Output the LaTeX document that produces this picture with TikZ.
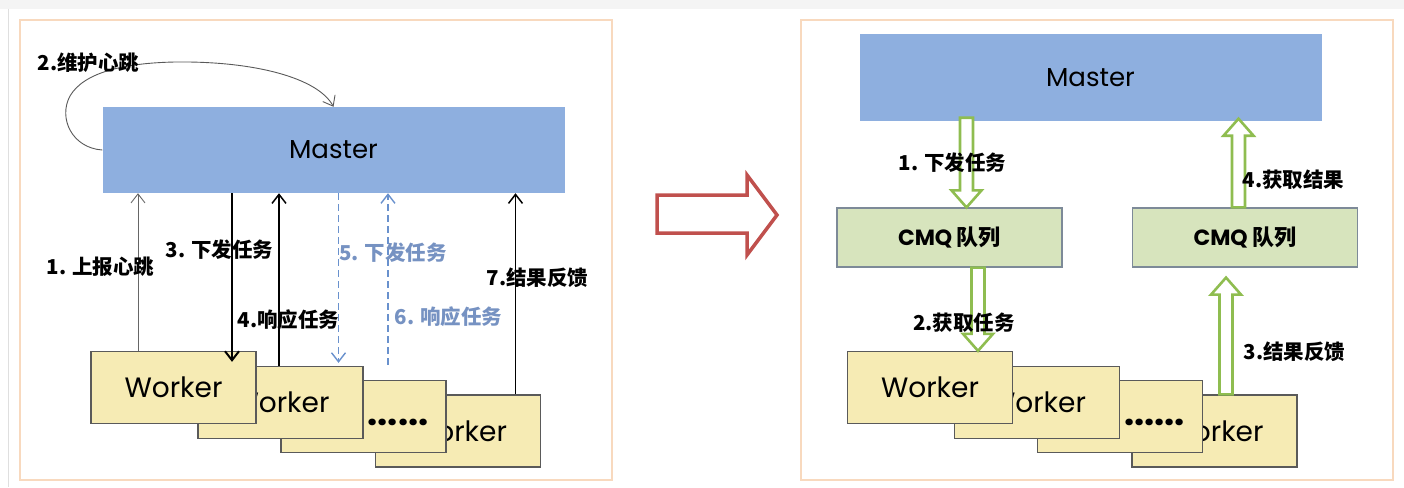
\documentclass[tikz,border=0pt]{standalone}
\usepackage{fontspec}
\setmainfont{Poppins}
\newfontfamily\cjk{Noto Sans CJK SC}
\usetikzlibrary{calc,arrows.meta,positioning}

\definecolor{masterblue}{RGB}{142,175,223}
\definecolor{queuegreen}{RGB}{215,228,189}
\definecolor{queueedge}{RGB}{125,138,152}
\definecolor{workeryellow}{RGB}{246,235,180}
\definecolor{workeredge}{RGB}{90,90,90}
\definecolor{fatgreen}{RGB}{143,189,80}
\definecolor{framepeach}{RGB}{248,217,190}
\definecolor{dashblue}{RGB}{105,145,205}
\definecolor{textblue}{RGB}{118,146,194}
\definecolor{bigred}{RGB}{192,80,77}

% hollow green arrow, #3 = 1 pointing down, -1 pointing up
\newcommand{\fatarrow}[3]{
	\draw[fat] let \p1=(#1), \p2=(#2) in
		({\x1-6.5pt},\y1) -- ({\x1-6.5pt},{\y2+#3*17pt}) -- ({\x1-15pt},{\y2+#3*17pt})
		-- (\x1,\y2) -- ({\x1+15pt},{\y2+#3*17pt}) -- ({\x1+6.5pt},{\y2+#3*17pt})
		-- ({\x1+6.5pt},\y1) -- cycle;
}

\begin{document}
\begin{tikzpicture}[x=1pt,y=-1pt,
	master/.style={fill=masterblue,minimum width=462pt,minimum height=86pt,inner sep=0pt,
		font=\fontsize{26}{30}\selectfont},
	worker/.style={draw=workeredge,line width=1.3pt,fill=workeryellow,minimum width=165pt,
		minimum height=72pt,inner sep=0pt,font=\fontsize{28}{32}\selectfont},
	dots/.style={inner sep=0pt,font=\bfseries\fontsize{36}{38}\selectfont},
	queue/.style={draw=queueedge,line width=1.2pt,fill=queuegreen,minimum width=225pt,
		minimum height=59pt,inner sep=0pt,font=\bfseries\fontsize{22}{26}\selectfont},
	lbl/.style={inner sep=0pt,font=\cjk\bfseries\fontsize{20.5}{24}\selectfont},
	bluelbl/.style={lbl,text=textblue},
	vhead/.style={-{Straight Barb[length=9pt,width=14pt]}},
	fat/.style={draw=fatgreen,line width=2.6pt,fill=white,line join=miter},
	frame/.style={draw=framepeach,line width=1.5pt}]
	\useasboundingbox (0,0) rectangle (1404,487);
	%Page edge
	\fill[gray!9] (0,0) rectangle (1404,9);
	\draw[gray!25] (8,9) -- (8,487);
	%Two panels
	\draw[frame] (20,20) rectangle (612,480);
	\draw[frame] (801,20) rectangle (1393,480);

	%Left panel: master and the stack of workers
	\node[master] (m1) at (333.5,150) {Master};
	\node[worker] (w4) at (458,431) {Worker};
	\node[worker] (w3) at (363.5,416.5) {};
	\node[dots] (w3dots) at (398,422) {......};
	\node[worker] (w2) at (280.5,402.5) {Worker};
	\node[worker] (w1) at (173.5,387.5) {Worker};
	%Columns of the connectors
	\coordinate (c1) at (138,0);
	\coordinate (c3) at (232,0);
	\coordinate (c4) at (279,0);
	\coordinate (c5) at (338.5,0);
	\coordinate (c6) at (388,0);
	\coordinate (c7) at (515.5,0);
	\draw[vhead,gray!80!black,line width=0.9pt] (c1 |- w1.north) -- (c1 |- m1.south);
	\draw[vhead,black,line width=2pt] (c3 |- m1.south) -- ($(c3 |- w1.north)+(0,11)$);
	\draw[vhead,black,line width=1.5pt] (c4 |- w2.north) -- (c4 |- m1.south);
	\draw[vhead,dashblue,line width=1.4pt,dash pattern=on 7pt off 4pt] (c5 |- m1.south) -- ($(c5 |- w2.north)+(0,-3)$);
	\coordinate (c6low) at ($(c6 |- w3.north)+(0,-15)$);
	\draw[vhead,dashblue,line width=1.4pt,dash pattern=on 7pt off 4pt] (c6low) -- (c6 |- m1.south);
	\draw[vhead,black,line width=1.5pt] (c7 |- w4.north) -- (c7 |- m1.south);
	%Heartbeat loop
	\draw[vhead,gray!70!black,line width=0.9pt] (m1.west) .. controls (72,148) and (58,118) .. (70,96)
		.. controls (84,72) and (125,63) .. (175,62) .. controls (255,61) and (318,78) .. (m1.north);
	%Labels left
	\node[lbl] (l2) at (88.5,63) {2.维护心跳};
	\node[lbl] (l1) at (100.5,267) {1. 上报心跳};
	\node[lbl] (l3) at (219.5,250) {3. 下发任务};
	\node[lbl] (l4) at (288.5,320) {4.响应任务};
	\node[bluelbl] (l5) at (393,253) {5. 下发任务};
	\node[bluelbl] (l6) at (448.5,317) {6. 响应任务};
	\node[lbl] (l7) at (537.5,278) {7.结果反馈};

	%Big arrow between the panels
	\draw[bigred,line width=3.5pt,line join=miter] (657,195) -- (747,195) -- (747,175) -- (777,215)
		-- (747,255) -- (747,233) -- (657,233) -- cycle;

	%Right panel: master, queues and workers
	\node[master] (m2) at (1090.5,77.5) {Master};
	\node[queue] (q1) at (949.5,237.5) {CMQ {\cjk 队列}};
	\node[queue] (q2) at (1245,237.5) {CMQ {\cjk 队列}};
	\node[worker] (v4) at (1214.5,431) {Worker};
	\node[worker] (v3) at (1120,416.5) {};
	\node[dots] (v3dots) at (1154.5,422) {......};
	\node[worker] (v2) at (1037,402.5) {Worker};
	\node[worker] (v1) at (930,387.5) {Worker};
	%Hollow arrows
	\coordinate (ra) at (966.5,0);
	\coordinate (rb) at (978,0);
	\coordinate (rc) at (1226,0);
	\coordinate (rd) at (1238.5,0);
	\fatarrow{$(ra |- m2.south)+(0,-3)$}{ra |- q1.north}{1}
	\fatarrow{rb |- q1.south}{rb |- v1.north}{1}
	\fatarrow{rc |- v4.north}{$(rc |- q2.south)+(0,10)$}{-1}
	\fatarrow{rd |- q2.north}{$(rd |- m2.south)+(0,-2)$}{-1}
	%Labels right
	\node[lbl] (r1) at (952.5,163) {1. 下发任务};
	\node[lbl] (r2) at (964,323) {2.获取任务};
	\node[lbl] (r3) at (1294.5,352) {3.结果反馈};
	\node[lbl] (r4) at (1293.5,180) {4.获取结果};
\end{tikzpicture}
\end{document}
